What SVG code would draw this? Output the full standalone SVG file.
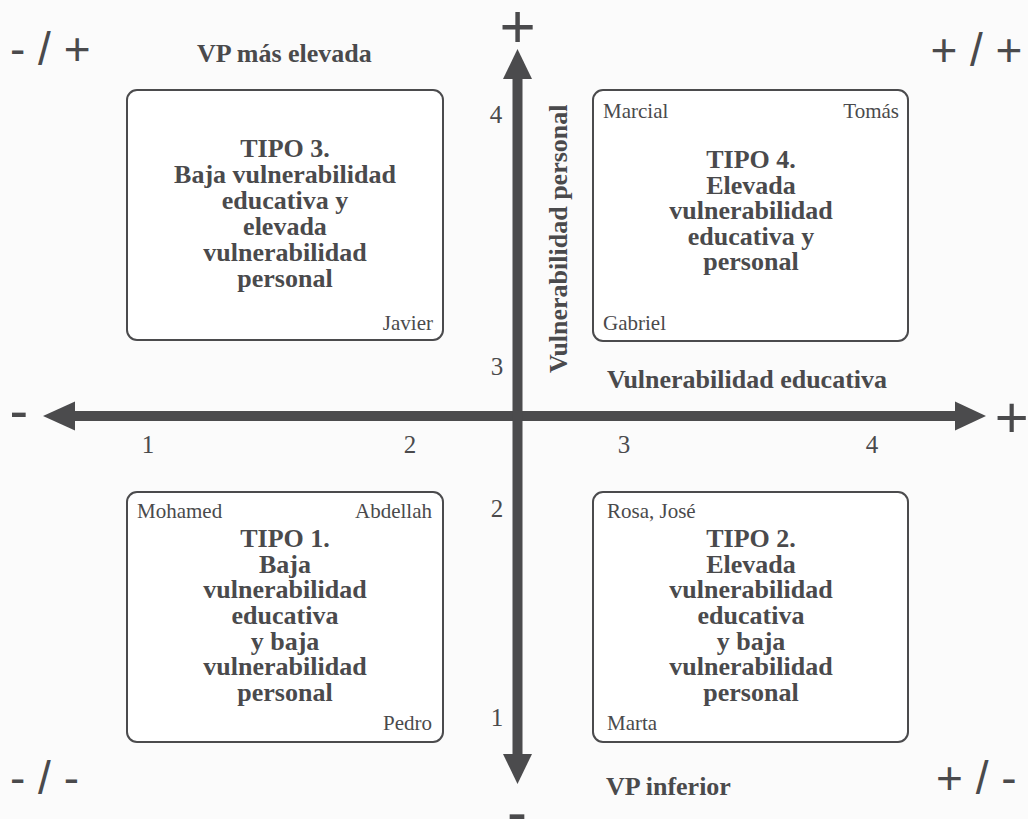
<svg xmlns="http://www.w3.org/2000/svg" width="1028" height="819" viewBox="0 0 1028 819">
<style>
.bg{fill:#fbfbfb}
.box{fill:#ffffff;stroke:#4b4b4d;stroke-width:2}
.ax{stroke:#4b4b4d;stroke-width:10;fill:none}
.head{fill:#4b4b4d}
.t{font-family:"Liberation Serif","Times New Roman",serif;font-weight:bold;font-size:26px;fill:#4a4a4c;text-anchor:middle}
.lab{font-family:"Liberation Serif","Times New Roman",serif;font-weight:bold;font-size:26px;fill:#4a4a4c}
.nm{font-family:"Liberation Serif","Times New Roman",serif;font-size:21px;fill:#4a4a4c}
.num{font-family:"Liberation Serif","Times New Roman",serif;font-size:25px;fill:#4a4a4c;text-anchor:middle}
.sg{font-family:"Liberation Sans",Arial,sans-serif;font-size:46px;fill:#4a4a4c}
.end{font-family:"Liberation Sans",Arial,sans-serif;fill:#4a4a4c}
</style>
<rect class="bg" x="0" y="0" width="1028" height="819"/>
<g id="connectors">
<line class="ax" x1="73" y1="416" x2="957" y2="416"/>
<polygon class="head" points="43,416 75,401.5 75,430.5"/>
<polygon class="head" points="986,416 955,401.5 955,430.5"/>
<line class="ax" x1="517.5" y1="77" x2="517.5" y2="756"/>
<polygon class="head" points="517.5,49 503,79 532,79"/>
<polygon class="head" points="517.5,784 503,754 532,754"/>
</g>
<g id="axis-labels">
<text class="end" x="517.5" y="47" font-size="62" text-anchor="middle">+</text>
<text class="end" x="517" y="832" font-size="60" text-anchor="middle">-</text>
<text class="end" x="9.5" y="430" font-size="56">-</text>
<text class="end" x="994.7" y="436.5" font-size="58">+</text>
<text class="sg" x="10" y="65">- / +</text>
<text class="sg" x="930.4" y="66">+ / +</text>
<text class="sg" x="10" y="794">- / -</text>
<text class="sg" x="936" y="794">+ / -</text>
<text class="lab" x="197" y="62">VP más elevada</text>
<text class="lab" x="606" y="795">VP inferior</text>
<text class="lab" x="607" y="388">Vulnerabilidad educativa</text>
<text class="lab" transform="translate(567,373) rotate(-90)">Vulnerabilidad personal</text>
<text class="num" x="148" y="453">1</text>
<text class="num" x="410" y="453">2</text>
<text class="num" x="624" y="453">3</text>
<text class="num" x="872" y="453">4</text>
<text class="num" x="496" y="123">4</text>
<text class="num" x="497" y="375">3</text>
<text class="num" x="497" y="517">2</text>
<text class="num" x="497" y="726">1</text>
</g>
<g id="tipo3">
<rect class="box" x="127" y="90" width="316" height="250" rx="10"/>
<text class="t" x="285" y="157">TIPO 3.</text>
<text class="t" x="285" y="183">Baja vulnerabilidad</text>
<text class="t" x="285" y="209">educativa y</text>
<text class="t" x="285" y="235">elevada</text>
<text class="t" x="285" y="261">vulnerabilidad</text>
<text class="t" x="285" y="287">personal</text>
<text class="nm" x="433" y="330" text-anchor="end">Javier</text>
</g>
<g id="tipo4">
<rect class="box" x="593" y="90" width="315" height="251" rx="10"/>
<text class="nm" x="603" y="118">Marcial</text>
<text class="nm" x="899" y="118" text-anchor="end">Tomás</text>
<text class="t" x="751" y="168">TIPO 4.</text>
<text class="t" x="751" y="193.5">Elevada</text>
<text class="t" x="751" y="219">vulnerabilidad</text>
<text class="t" x="751" y="244.5">educativa y</text>
<text class="t" x="751" y="270">personal</text>
<text class="nm" x="603" y="330">Gabriel</text>
</g>
<g id="tipo1">
<rect class="box" x="127" y="492" width="316" height="250" rx="10"/>
<text class="nm" x="137" y="518">Mohamed</text>
<text class="nm" x="432" y="518" text-anchor="end">Abdellah</text>
<text class="t" x="285" y="547">TIPO 1.</text>
<text class="t" x="285" y="573">Baja</text>
<text class="t" x="285" y="598">vulnerabilidad</text>
<text class="t" x="285" y="624">educativa</text>
<text class="t" x="285" y="650">y baja</text>
<text class="t" x="285" y="675">vulnerabilidad</text>
<text class="t" x="285" y="701">personal</text>
<text class="nm" x="432" y="730" text-anchor="end">Pedro</text>
</g>
<g id="tipo2">
<rect class="box" x="593" y="492" width="315" height="250" rx="10"/>
<text class="nm" x="607" y="518">Rosa, José</text>
<text class="t" x="751" y="547">TIPO 2.</text>
<text class="t" x="751" y="573">Elevada</text>
<text class="t" x="751" y="598">vulnerabilidad</text>
<text class="t" x="751" y="624">educativa</text>
<text class="t" x="751" y="650">y baja</text>
<text class="t" x="751" y="675">vulnerabilidad</text>
<text class="t" x="751" y="701">personal</text>
<text class="nm" x="607" y="730">Marta</text>
</g>
</svg>
